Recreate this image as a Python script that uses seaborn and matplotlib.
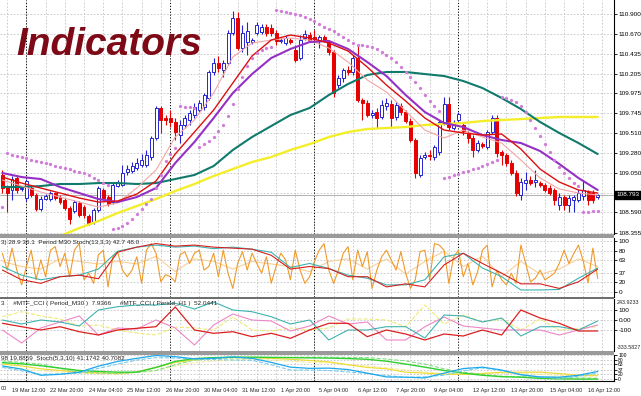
import numpy as np
import pandas as pd
import matplotlib
matplotlib.use('Agg')
import matplotlib.pyplot as plt
import matplotlib.transforms as mtrans
from matplotlib.patches import Rectangle
import seaborn as sns

sns.set_style('white')
plt.rcParams['font.family'] = ['Liberation Sans Narrow', 'Liberation Sans', 'DejaVu Sans']

##############################################################################
# H4 candles (bar 0 = 18 Mar 20:00 ... bar 124 = 16 Apr 20:00)
open_ = [109.026, 108.886, 108.851, 108.991, 108.863, 108.758, 108.874, 108.793, 108.630, 108.746,
         108.746, 108.816, 108.769, 108.734, 108.641, 108.606, 108.700, 108.653, 108.548, 108.478,
         108.618, 108.851, 108.769, 108.711, 108.897, 108.909, 109.060, 109.072, 109.107, 109.142,
         109.142, 109.235, 109.456, 109.806, 109.689, 109.689, 109.643, 109.491, 109.608, 109.666,
         109.724, 109.782, 109.817, 109.922, 110.225, 110.330, 110.248, 110.330, 110.679, 110.853,
         110.504, 110.574, 110.574, 110.679, 110.690, 110.749, 110.737, 110.679, 110.586, 110.562,
         110.597, 110.481, 110.388, 110.621, 110.655, 110.632, 110.597, 110.632, 110.574, 110.458,
         110.073, 110.155, 110.248, 110.225, 110.388, 109.899, 109.864, 109.724, 109.759, 109.701,
         109.829, 109.852, 109.701, 109.829, 109.759, 109.654, 109.433, 109.026, 109.235, 109.258,
         109.235, 109.293, 109.643, 109.852, 109.573, 109.666, 109.608, 109.515, 109.456, 109.317,
         109.386, 109.352, 109.526, 109.689, 109.293, 109.258, 109.165, 109.049, 108.793, 108.932,
         108.967, 108.944, 108.932, 108.909, 108.874, 108.851, 108.676, 108.769, 108.676, 108.734,
         108.734, 108.781, 108.828, 108.816, 108.769]
high = [109.084, 108.909, 109.014, 109.026, 108.897, 108.979, 108.897, 108.816, 108.781, 108.804,
        108.839, 108.828, 108.793, 108.758, 108.665, 108.734, 108.723, 108.676, 108.571, 108.641,
        108.897, 108.874, 108.793, 108.932, 108.967, 109.142, 109.142, 109.177, 109.223, 109.270,
        109.317, 109.480, 109.829, 109.829, 109.724, 109.782, 109.689, 109.666, 109.724, 109.782,
        109.864, 109.899, 109.980, 110.248, 110.388, 110.411, 110.364, 110.714, 110.935, 110.923,
        110.772, 110.807, 110.621, 110.807, 110.784, 110.784, 110.784, 110.714, 110.621, 110.655,
        110.621, 110.539, 110.655, 110.714, 110.690, 110.714, 110.655, 110.655, 110.597, 110.481,
        110.190, 110.271, 110.295, 110.423, 110.539, 109.922, 109.899, 109.782, 109.806, 109.899,
        109.922, 109.899, 109.875, 109.864, 109.782, 109.689, 109.456, 109.258, 109.293, 109.317,
        109.375, 109.666, 109.934, 109.934, 109.666, 109.759, 109.643, 109.538, 109.491, 109.433,
        109.410, 109.549, 109.724, 109.724, 109.317, 109.282, 109.200, 109.084, 108.991, 109.060,
        109.014, 109.084, 108.956, 108.932, 108.909, 108.874, 108.816, 108.793, 108.793, 108.793,
        108.851, 108.967, 108.851, 108.851, 108.804]
low = [108.816, 108.595, 108.734, 108.816, 108.839, 108.723, 108.769, 108.606, 108.606, 108.734,
       108.723, 108.734, 108.688, 108.618, 108.455, 108.583, 108.536, 108.525, 108.443, 108.455,
       108.595, 108.734, 108.665, 108.688, 108.886, 108.897, 109.026, 109.049, 109.084, 109.119,
       109.119, 109.200, 109.433, 109.515, 109.608, 109.584, 109.433, 109.398, 109.573, 109.608,
       109.689, 109.759, 109.782, 109.899, 110.190, 110.225, 110.166, 110.306, 110.655, 110.481,
       110.458, 110.423, 110.551, 110.655, 110.667, 110.644, 110.644, 110.539, 110.562, 110.539,
       110.551, 110.341, 110.364, 110.597, 110.574, 110.574, 110.504, 110.574, 110.423, 109.934,
       110.038, 110.108, 110.190, 110.190, 109.875, 109.666, 109.701, 109.689, 109.573, 109.677,
       109.782, 109.584, 109.666, 109.724, 109.631, 109.410, 108.991, 109.002, 109.212, 109.200,
       109.200, 109.258, 109.608, 109.549, 109.549, 109.643, 109.491, 109.398, 109.235, 109.293,
       109.340, 109.328, 109.503, 109.235, 109.142, 109.130, 109.026, 108.781, 108.734, 108.851,
       108.909, 108.886, 108.886, 108.828, 108.793, 108.676, 108.618, 108.618, 108.595, 108.595,
       108.711, 108.734, 108.676, 108.700, 108.746]
close = [108.874, 108.816, 108.979, 108.851, 108.874, 108.956, 108.793, 108.630, 108.746, 108.781,
         108.816, 108.758, 108.711, 108.641, 108.513, 108.711, 108.560, 108.560, 108.467, 108.618,
         108.874, 108.758, 108.688, 108.909, 108.932, 109.049, 109.095, 109.130, 109.165, 109.200,
         109.258, 109.456, 109.806, 109.666, 109.666, 109.643, 109.526, 109.608, 109.689, 109.747,
         109.817, 109.864, 109.957, 110.225, 110.330, 110.271, 110.330, 110.679, 110.853, 110.504,
         110.679, 110.702, 110.597, 110.772, 110.749, 110.679, 110.679, 110.586, 110.597, 110.621,
         110.574, 110.364, 110.597, 110.667, 110.597, 110.609, 110.632, 110.597, 110.458, 109.980,
         110.155, 110.248, 110.225, 110.388, 109.899, 109.864, 109.724, 109.747, 109.689, 109.840,
         109.864, 109.689, 109.840, 109.759, 109.654, 109.433, 109.049, 109.223, 109.258, 109.247,
         109.352, 109.643, 109.852, 109.584, 109.631, 109.736, 109.538, 109.456, 109.317, 109.398,
         109.363, 109.526, 109.689, 109.282, 109.258, 109.165, 109.049, 108.816, 108.944, 108.967,
         108.932, 108.967, 108.909, 108.851, 108.816, 108.734, 108.769, 108.676, 108.758, 108.769,
         108.816, 108.851, 108.734, 108.734, 108.793]

# parabolic SAR, one dot per bar
sar = [108.653,
       109.282, 109.258, 109.247, 109.235, 109.223, 109.200, 109.188, 109.177, 109.165, 109.154, 109.130,
       109.119, 109.107, 109.095, 109.072, 109.060, 109.049, 109.026, 108.991, 108.967, 108.932, 108.909,
       108.397, 108.408, 108.432, 108.467, 108.513, 108.571, 108.630, 108.688, 108.746, 108.874,
       109.026, 109.188, 109.270, 109.340,
       109.829, 109.817, 109.817, 109.806,
       109.352, 109.386, 109.421, 109.468, 109.538, 109.608, 109.712, 109.852, 110.027, 110.166,
       110.295, 110.388, 110.446, 110.481, 110.504, 110.516,
       110.947, 110.935, 110.923, 110.912, 110.900, 110.888, 110.865, 110.842, 110.819, 110.784,
       110.749, 110.725, 110.702, 110.667, 110.632, 110.597, 110.562, 110.539, 110.539, 110.527,
       110.516, 110.493, 110.458, 110.423, 110.388, 110.341, 110.283, 110.225, 110.166, 110.108,
       110.038, 109.957, 109.887, 109.829, 109.771,
       108.991, 109.002, 109.026, 109.037, 109.060, 109.072, 109.095, 109.107, 109.130, 109.154,
       109.177, 109.200,
       109.934, 109.922, 109.899, 109.875, 109.829, 109.759, 109.666, 109.573, 109.480, 109.386,
       109.293, 109.200, 109.119, 109.049, 108.991, 108.932, 108.897,
       108.595, 108.595, 108.606, 108.606]

# moving averages, read every 4 bars
ma_bars = list(range(0, 125, 4))
ma_red = [109.002, 108.932, 108.874, 108.816, 108.758, 108.711, 108.723, 108.804, 108.956, 109.270,
          109.526, 109.782, 110.097, 110.411, 110.597, 110.655, 110.621, 110.562, 110.469, 110.283,
          110.073, 109.887, 109.689, 109.549, 109.515, 109.491, 109.503, 109.328, 109.095, 108.944,
          108.851, 108.816]
ma_pink = [108.967, 108.897, 108.828, 108.769, 108.711, 108.653, 108.700, 108.874, 109.084, 109.468,
           109.666, 109.980, 110.399, 110.562, 110.597, 110.621, 110.597, 110.504, 110.341, 110.132,
           109.992, 109.771, 109.549, 109.456, 109.549, 109.468, 109.398, 109.200, 108.991, 108.863,
           108.816, 108.793]
ma_purple = [109.049, 109.002, 108.979, 108.886, 108.816, 108.746, 108.711, 108.769, 108.874, 109.165,
             109.410, 109.689, 109.980, 110.201, 110.388, 110.493, 110.574, 110.586, 110.493, 110.341,
             110.178, 109.957, 109.759, 109.631, 109.584, 109.491, 109.433, 109.398, 109.305, 109.154,
             108.991, 108.851]
ma_teal = [108.886, 108.886, 108.897, 108.921, 108.921, 108.932, 108.932, 108.921, 108.932, 108.979,
           109.026, 109.130, 109.317, 109.468, 109.596, 109.724, 109.806, 109.957, 110.085, 110.190,
           110.225, 110.225, 110.201, 110.178, 110.120, 110.038, 109.922, 109.794, 109.643, 109.515,
           109.398, 109.270]
yellow_bars = list(range(12, 125, 4))
ma_yellow = [108.315, 108.408, 108.490, 108.583, 108.665, 108.746, 108.839, 108.921, 109.014, 109.095,
             109.177, 109.235, 109.317, 109.386, 109.468, 109.526, 109.561, 109.573, 109.584, 109.608,
             109.619, 109.631, 109.654, 109.666, 109.677, 109.689, 109.701, 109.701, 109.701]

# stochastic window
stoch_fast = [76, 43, 86, 43, 14, 50, 82, 24, 63, 30, 82, 89, 50, 76, 30, 82, 95, 24, 37, 17,
              73, 82, 10, 69, 79, 43, 30, 43, 69, 17, 82, 95, 76, 20, 34, 30, 20, 73, 79, 56,
              76, 82, 43, 50, 76, 30, 82, 37, 7, 56, 79, 43, 76, 56, 37, 69, 17, 50, 76, 63,
              24, 82, 43, 17, 30, 60, 82, 95, 43, 17, 43, 76, 89, 24, 82, 50, 79, 7, 43, 69,
              82, 63, 43, 79, 37, 7, 24, 79, 82, 24, 95, 92, 82, 17, 69, 82, 30, 56, 14, 40,
              82, 92, 10, 43, 24, 14, 37, 17, 92, 56, 20, 27, 43, 24, 30, 37, 56, 82, 56, 75,
              92, 60, 18, 86, 27]
stoch_peach = [60, 50, 45, 65, 60, 55, 60, 55, 70, 40, 65, 60, 45, 60, 55, 50,
               40, 60, 65, 45, 65, 35, 60, 80, 50, 70, 30, 60, 35, 45, 65, 50]
stoch_teal = [50, 33, 24, 30, 33, 45, 80, 88, 92, 88, 90, 85, 88, 84, 78, 48,
              56, 46, 33, 27, 14, 14, 24, 69, 76, 47, 30, 4, 4, 5, 27, 47]
stoch_red = [43, 24, 17, 30, 33, 26, 78, 88, 95, 90, 92, 88, 86, 84, 72, 45,
             50, 46, 30, 30, 10, 16, 10, 53, 76, 56, 37, 16, 16, 7, 20, 45]

# MTF CCI window
cci_red = [-33, -67, -100, -67, -117, -150, -100, -83, -67, 130, -100, -133, -117, -167, -133, -183,
           -100, -33, -33, -167, -100, -140, -200, -140, -160, -100, -150, 100, 20, -33, -110, -110]
cci_teal = [0, -40, 0, -20, -60, 100, 133, 150, 150, 167, 110, 180, 100, 83, 33, -40,
            0, -200, -100, -100, -67, -67, -180, 50, 40, -20, 20, -160, -67, -67, -100, -10]
cci_pink = [-100, -230, -80, -20, 40, -150, -80, -90, 0, -80, -250, -50, 60, 0, -10, -110,
            -60, 40, -40, -20, -200, -200, -67, 30, -60, -80, -100, -100, -100, -150, -100, -50]
cci_yellow = [33, 83, 40, 10, -60, -50, -100, -130, -150, -70, -80, -100, 30, -100, -110, -80,
              -100, -80, 10, 10, 0, -67, 150, -40, 50, -20, 10, -100, 10, -100, -83, -67]

# Stoch(5,3,10) multi timeframe window
mtf_blue = [55, 42, 16, 20, 29, 54, 74, 87, 99, 94, 85, 87, 93, 87, 70, 50,
            45, 46, 40, 25, 9, 8, 5, 25, 44, 50, 38, 18, 9, 8, 16, 32]
mtf_blue2 = [49, 35, 20, 22, 25, 45, 63, 80, 90, 88, 85, 82, 80, 79, 60, 38,
             38, 36, 30, 23, 15, 7, 10, 16, 35, 47, 35, 20, 8, 3, 12, 25]
mtf_green = [69, 64, 56, 46, 36, 32, 29, 29, 49, 74, 86, 90, 92, 92, 91, 90,
             89, 88, 86, 83, 75, 63, 50, 36, 25, 16, 10, 8, 3, 1, 0, 0]
mtf_green2 = [76, 70, 63, 45, 29, 25, 23, 28, 36, 60, 80, 86, 89, 89, 90, 91,
              92, 92, 91, 90, 84, 76, 63, 43, 29, 20, 12, 10, 8, 7, 5, 3]
mtf_yellow = [63, 55, 43, 36, 29, 26, 23, 30, 49, 70, 80, 89, 90, 89, 87, 83,
              78, 72, 60, 49, 43, 29, 25, 20, 20, 23, 29, 29, 29, 23, 16, 16]
mtf_yellow2 = [49, 42, 35, 30, 25, 22, 20, 28, 36, 55, 69, 76, 80, 83, 80, 75,
               70, 68, 60, 56, 47, 39, 30, 23, 23, 25, 24, 23, 20, 16, 12, 9]

price_levels = [110.900, 110.670, 110.435, 110.205, 109.975, 109.745, 109.510,
                109.280, 109.050, 108.820, 108.590, 108.355]
label_bars = list(range(2, 125, 8))
x_labels = ['19 Mar 12:00', '22 Mar 20:00', '24 Mar 04:00', '25 Mar 12:00', '26 Mar 20:00',
            '30 Mar 04:00', '31 Mar 12:00', '1 Apr 20:00', '5 Apr 04:00', '6 Apr 12:00',
            '7 Apr 20:00', '9 Apr 04:00', '12 Apr 12:00', '13 Apr 20:00', '15 Apr 04:00',
            '16 Apr 12:00']
week_bars = [5, 35, 65, 95]

##############################################################################
W, H = 641, 396
FS = 4.6
FSX = 4.1
XL = (-0.5, 127.4)
BLUE = '#2525d0'
RED = '#e60000'


def box(x0, y0, x1, y1):
    return [x0 / W, 1 - y1 / H, (x1 - x0) / W, (y1 - y0) / H]


def style(a, fs=FS):
    a.set_xlim(XL)
    for s in ['left', 'top', 'bottom']:
        a.spines[s].set_visible(False)
    a.spines['right'].set_color('black')
    a.spines['right'].set_linewidth(0.8)
    a.yaxis.tick_right()
    a.tick_params(axis='y', length=2, width=0.6, pad=1.5, labelsize=fs, colors='black')
    a.set_xticks(np.arange(1, 127, 4), minor=True)
    a.set_xticks([])
    a.tick_params(axis='x', which='both', length=0, labelbottom=False)
    a.grid(axis='y', ls=(0, (2, 2)), color='#c4c4c4', lw=0.6)
    a.grid(axis='x', which='minor', ls=(0, (2, 2)), color='#c4c4c4', lw=0.6)
    for b in week_bars:
        a.axvline(b, color='black', ls=(0, (1.2, 1.8)), lw=0.7, zorder=1)
    a.set_xlabel('')
    a.set_ylabel('')


fig = plt.figure(figsize=(W / 100, H / 100), dpi=100)
ax = fig.add_axes(box(0, 0, 614, 234))
ax2 = fig.add_axes(box(0, 238, 614, 297))
ax3 = fig.add_axes(box(0, 299, 614, 351))
ax4 = fig.add_axes(box(0, 355, 614, 381))

# window separators
for y0, y1, c in [(234, 238, '#9a9a9a'), (297, 299, '#6e6e6e'), (351, 355, '#9a9a9a')]:
    fig.add_artist(Rectangle((0, 1 - y1 / H), 614 / W, (y1 - y0) / H,
                             transform=fig.transFigure, facecolor=c, edgecolor='none'))

##############################################################################
# main price window
df = pd.DataFrame({'bar': np.arange(len(close)), 'open': open_, 'high': high,
                   'low': low, 'close': close})
up = df['close'] >= df['open']
ax.vlines(df['bar'], df['low'], df['high'], colors=np.where(up, BLUE, RED), lw=0.8, zorder=3)
body_bot = df[['open', 'close']].min(axis=1)
body_h = (df['close'] - df['open']).abs().clip(lower=0.004)
ax.bar(df['bar'][up], body_h[up], bottom=body_bot[up], width=0.62, color='white',
       edgecolor=BLUE, lw=0.7, zorder=4)
ax.bar(df['bar'][~up], body_h[~up], bottom=body_bot[~up], width=0.62, color=RED,
       edgecolor=RED, lw=0.7, zorder=4)

sns.lineplot(x=yellow_bars, y=ma_yellow, color='#f4ee2a', lw=1.7, ax=ax, zorder=5)
sns.lineplot(x=ma_bars, y=ma_teal, color='#107a6c', lw=1.5, ax=ax, zorder=5)
sns.lineplot(x=ma_bars, y=ma_pink, color='#f2a6a6', lw=0.8, ax=ax, zorder=5)
sns.lineplot(x=ma_bars, y=ma_purple, color='#9430c4', lw=1.5, ax=ax, zorder=5)
sns.lineplot(x=ma_bars, y=ma_red, color='#dd1010', lw=1.0, ax=ax, zorder=5)
sns.scatterplot(x=df['bar'], y=sar, marker='o', s=5.5, color='#d27cda', linewidth=0, ax=ax, zorder=6)

ax.axhline(close[-1], color='#b0b0b0', lw=0.7, zorder=2)
style(ax)
ax.set_ylim(108.339, 111.063)
ax.set_yticks(price_levels)
ax.set_yticklabels([f'{v:.3f}' if abs(v - 108.820) > 1e-6 else '' for v in price_levels])
tr = mtrans.blended_transform_factory(ax.transAxes, ax.transData)
ax.text(1.004, close[-1], f'{close[-1]:.3f}', transform=tr, color='white', fontsize=FS,
        va='center', ha='left', zorder=10, clip_on=False,
        bbox=dict(facecolor='black', edgecolor='black', pad=0.8))
fig.text(16 / W, 1 - 55 / H, 'Indicators', fontsize=28, fontweight='bold', fontstyle='italic',
         color='#7d0a16', family=['Liberation Sans', 'DejaVu Sans'], va='baseline')

##############################################################################
# stochastic window
sns.lineplot(x=ma_bars, y=stoch_peach, color='#f7cf9c', lw=0.8, ax=ax2, zorder=3)
sns.lineplot(x=np.arange(len(stoch_fast)), y=stoch_fast, color='#f09a2a', lw=0.8, ax=ax2, zorder=4)
sns.lineplot(x=ma_bars, y=stoch_teal, color='#3fb3b0', lw=0.8, ax=ax2, zorder=5)
sns.lineplot(x=ma_bars, y=stoch_red, color='#d42020', lw=0.8, ax=ax2, zorder=5)
style(ax2)
ax2.set_ylim(-9.8, 105.9)
ax2.set_yticks([100, 80, 63, 37, 20, 0])
ax2.text(0.001, 0.93, '3) 28.9 36.1  Period M30 Stoch(13,3,3) 42.7 48.0', transform=ax2.transAxes,
         fontsize=FS, va='center', zorder=10)

##############################################################################
# MTF CCI window
sns.lineplot(x=ma_bars, y=cci_yellow, color='#eeea7a', lw=0.8, ls='--', ax=ax3, zorder=3)
sns.lineplot(x=ma_bars, y=cci_pink, color='#ee86c8', lw=0.8, ax=ax3, zorder=4)
sns.lineplot(x=ma_bars, y=cci_teal, color='#3fb3b0', lw=0.8, ax=ax3, zorder=4)
sns.lineplot(x=ma_bars, y=cci_red, color='#dc2020', lw=0.9, ax=ax3, zorder=5)
style(ax3)
ax3.set_ylim(-310, 210)
ax3.set_yticks([100, 0, -100])
ax3.set_yticklabels(['100', '0.00', '-100'])
ax3.text(1.005, 0.99, '243.9233', transform=ax3.transAxes, fontsize=3.9, va='top', clip_on=False)
ax3.text(1.005, 0.01, '-333.5827', transform=ax3.transAxes, fontsize=3.9, va='bottom', clip_on=False)
ax3.text(0.001, 0.92, '3     #MTF_CCI ( Period_M30 )  7.9366     #MTF_CCI ( Period_H1 )  52.0441',
         transform=ax3.transAxes, fontsize=FS, va='center', zorder=10)

##############################################################################
# Stoch(5,3,10) window
sns.lineplot(x=ma_bars, y=mtf_yellow2, color='#f4eca0', lw=0.8, ls='--', ax=ax4, zorder=3)
sns.lineplot(x=ma_bars, y=mtf_yellow, color='#eedc3a', lw=0.9, ax=ax4, zorder=3)
sns.lineplot(x=ma_bars, y=mtf_green2, color='#86de86', lw=0.8, ls='--', ax=ax4, zorder=4)
sns.lineplot(x=ma_bars, y=mtf_green, color='#2ecf2e', lw=1.0, ax=ax4, zorder=4)
sns.lineplot(x=ma_bars, y=mtf_blue2, color='#78ccee', lw=0.8, ls='--', ax=ax4, zorder=5)
sns.lineplot(x=ma_bars, y=mtf_blue, color='#1ea8ec', lw=0.9, ax=ax4, zorder=5)
style(ax4, fs=3.6)
ax4.set_ylim(-8, 101)
ax4.set_yticks([100, 80, 63, 37, 20, 0])
ax4.tick_params(axis='y', pad=1.0)
ax4.text(0.001, 0.86, '98 19.8859  Stoch(5,3,10) 41.1742 40.7082', transform=ax4.transAxes,
         fontsize=FS, va='center', zorder=10)
ax4.spines['bottom'].set_visible(True)
ax4.spines['bottom'].set_color('black')
ax4.spines['bottom'].set_linewidth(0.8)
ax4.set_xticks(label_bars)
ax4.set_xticklabels(x_labels)
ax4.tick_params(axis='x', which='major', length=3, width=0.6, pad=2.0, labelsize=FSX,
                labelbottom=True)
for t in ax4.get_xticklabels():
    t.set_ha('left')
fig.text(0.001, 1 - 388 / H, '00', fontsize=FSX, va='center')

fig.savefig('out.png', dpi=100, facecolor='white')
